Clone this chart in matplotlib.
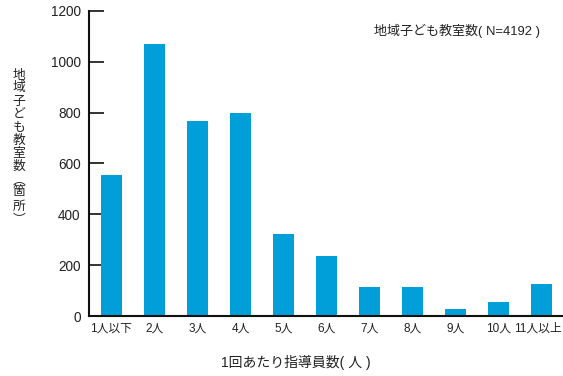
import matplotlib
matplotlib.use("Agg")
import matplotlib.pyplot as plt
import matplotlib.transforms as mtransforms

plt.rcParams['font.family'] = ['Liberation Sans', 'Noto Sans CJK JP', 'DejaVu Sans']

categories = ["1人以下", "2人", "3人", "4人", "5人", "6人", "7人", "8人", "9人", "10人", "11人以上"]
counts = [555, 1070, 768, 800, 323, 238, 115, 115, 26, 57, 125]
y_ticks = [0, 200, 400, 600, 800, 1000, 1200]

W, H = 563, 376
fig = plt.figure(figsize=(W / 100, H / 100), dpi=100)
ax = fig.add_axes([89 / W, 1 - 316 / H, (W - 89) / W, (316 - 11) / H])

x = range(len(categories))
ax.bar(x, counts, width=0.49, color="#009FDA", zorder=2)

ax.set_xlim(-0.52, 10.5)
ax.set_ylim(0, 1200)
ax.set_yticks(y_ticks)
ax.set_yticklabels([str(v) for v in y_ticks], fontsize=9.8, color="#222222")
ax.set_xticks(list(x))
ax.set_xticklabels(categories, fontsize=8.5, color="#222222")
ax.tick_params(axis='y', direction='in', length=11, width=1.2, pad=6, color="#111111")
ax.tick_params(axis='x', length=0, pad=5)

# nudge the rightmost category label so it stays inside the canvas
last = ax.get_xticklabels()[-1]
last.set_transform(last.get_transform() +
                   mtransforms.ScaledTranslation(-4 / 100, 0, fig.dpi_scale_trans))

for side in ("top", "right"):
    ax.spines[side].set_visible(False)
for side in ("left", "bottom"):
    ax.spines[side].set_linewidth(1.5)
    ax.spines[side].set_color("#111111")

# vertical y-axis label, one glyph per row
ylabel_chars = ["地", "域", "子", "ど", "も", "教", "室", "数", "︵", "箇", "所", "︶"]
ylabel_rows = [75, 88, 101, 114, 127, 140, 153, 166, 180, 192, 206, 220]
for ch, yp in zip(ylabel_chars, ylabel_rows):
    fig.text(19 / W, 1 - yp / H, ch, ha="center", va="center", fontsize=9.2,
             color="#222222", family=['Noto Sans CJK JP', 'DejaVu Sans'])

fig.text(296 / W, 1 - 362 / H, "1回あたり指導員数( 人 )", ha="center", va="center",
         fontsize=10, color="#222222")

fig.text(457 / W, 1 - 31 / H, "地域子ども教室数( N=4192 )", ha="center", va="center",
         fontsize=9.4, color="#222222")

fig.savefig("out.png", dpi=100)
